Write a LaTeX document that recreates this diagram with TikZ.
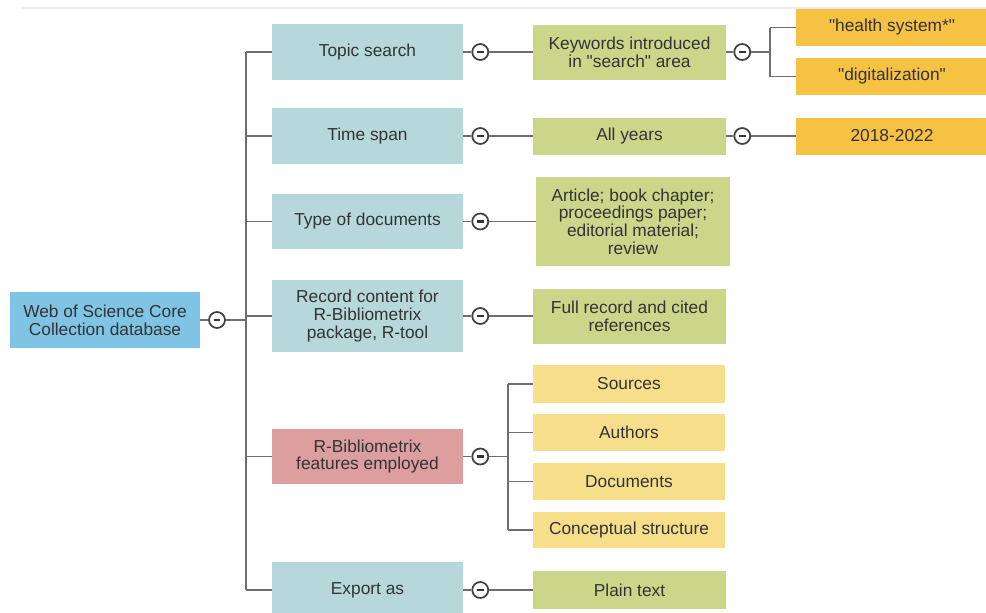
\documentclass[tikz,border=0pt]{standalone}
\usepackage{fontspec}
\setmainfont{Liberation Sans}[Ligatures=TeXOff]
\definecolor{wosblau}{HTML}{7FC4E4}
\definecolor{stufeeins}{HTML}{B6D8DA}
\definecolor{rotbox}{HTML}{DC9E9F}
\definecolor{gruenbox}{HTML}{CBD68B}
\definecolor{gelbbox}{HTML}{F7DE8B}
\definecolor{orangebox}{HTML}{F6C243}
\definecolor{linie}{HTML}{6E6E6E}
\definecolor{schrift}{HTML}{333333}

\begin{document}
\begin{tikzpicture}[x=0.75pt, y=-0.75pt,
	feld/.style={rectangle, inner sep=0pt, align=center, text=schrift, font=\fontsize{13}{13.3}\selectfont},
	eins/.style={feld, fill=stufeeins, minimum width=143.25pt},
	zwei/.style={feld, fill=gruenbox, minimum width=144.75pt},
	gelb/.style={feld, fill=gelbbox, minimum width=144pt, minimum height=27.75pt},
	orange/.style={feld, fill=orangebox, minimum width=144pt, minimum height=27.75pt},
	minus/.style={circle, draw=black!75, line width=1.3pt, fill=white, minimum size=12pt, inner sep=0pt,
		path picture={\draw[line width=1.6pt, black!80] ([xshift=-2.6pt]path picture bounding box.center) -- ([xshift=2.6pt]path picture bounding box.center);}},
	verb/.style={draw=linie, line width=1.3pt}]

		\useasboundingbox (0,0) rectangle (986,612);
		%Linie oben
		\draw[black!8, line width=1pt] (22,8) -- (986,8);

		%Wurzel
		\node[feld, fill=wosblau, minimum width=142.5pt, minimum height=42pt] (wos) at (105,320) {Web of Science Core\\Collection database};

		%erste Stufe
		\node[eins, minimum height=42pt] (topic) at (367.5,52) {Topic search};
		\node[eins, minimum height=42pt] (time) at (367.5,136) {Time span};
		\node[eins, minimum height=41.25pt] (type) at (367.5,221.5) {Type of documents};
		\node[eins, minimum height=54pt] (record) at (367.5,316) {Record content for\\R-Bibliometrix\\package, R-tool};
		\node[eins, fill=rotbox, minimum height=41.25pt] (rbib) at (367.5,456.5) {R-Bibliometrix\\features employed};
		\node[eins, minimum height=42pt] (export) at (367.5,590) {Export as};

		%zweite Stufe
		\node[zwei, minimum height=41.25pt] (keywords) at (629.5,52) {Keywords introduced\\in "search" area};
		\node[zwei, minimum height=27.75pt] (allyears) at (629.5,136) {All years};
		\node[zwei, minimum width=145.5pt, minimum height=66.75pt] (article) at (633,221.5) {Article; book chapter;\\proceedings paper;\\editorial material;\\review};
		\node[zwei, minimum height=41.25pt] (fullrec) at (629.5,316) {Full record and cited\\references};
		\node[zwei, minimum height=28.5pt] (plain) at (629.5,590) {Plain text};

		\node[gelb, minimum height=28.5pt] (sources) at (629,384) {Sources};
		\node[gelb] (authors) at (629,432.5) {Authors};
		\node[gelb] (documents) at (629,481.5) {Documents};
		\node[gelb, minimum height=27pt] (concept) at (629,530) {Conceptual structure};

		%dritte Stufe
		\node[orange] (health) at (892,27.5) {"health system*"};
		\node[orange] (digit) at (892,76.5) {"digitalization"};
		\node[orange] (years) at (892,136) {2018-2022};

		%Kreise
		\node[minus] (mwos) at (217,320) {};
		\foreach \n in {topic,time,type,record,rbib,export}
			\node[minus] (m\n) at ([xshift=12.75pt]\n.east) {};
		\foreach \n in {keywords,allyears}
			\node[minus] (m\n) at ([xshift=12pt]\n.east) {};

		\coordinate (stamm) at (246,320);
		\coordinate (gabel) at (508,456.5);
		\coordinate (gabelk) at (770,52);

		%Verbindungen
		\draw[verb] (wos) -- (mwos) -- (stamm);
		\draw[verb] (stamm |- topic) -- (stamm |- export);
		\foreach \n in {topic,time,type,record,rbib,export}
			\draw[verb] (stamm |- \n) -- (\n) (\n) -- (m\n);

		\draw[verb] (mtopic) -- (keywords);
		\draw[verb] (mtime) -- (allyears);
		\draw[verb] (mtype) -- (article);
		\draw[verb] (mrecord) -- (fullrec);
		\draw[verb] (mexport) -- (plain);

		\draw[verb] (mrbib) -- (gabel);
		\draw[verb] (gabel |- sources) -- (gabel |- concept);
		\foreach \n in {sources,authors,documents,concept}
			\draw[verb] (gabel |- \n) -- (\n);

		\draw[verb] (keywords) -- (mkeywords) -- (gabelk);
		\draw[verb] (gabelk |- health) -- (gabelk |- digit);
		\draw[verb] (gabelk |- health) -- (health);
		\draw[verb] (gabelk |- digit) -- (digit);
		\draw[verb] (allyears) -- (mallyears) -- (years);

	\end{tikzpicture}
\end{document}
